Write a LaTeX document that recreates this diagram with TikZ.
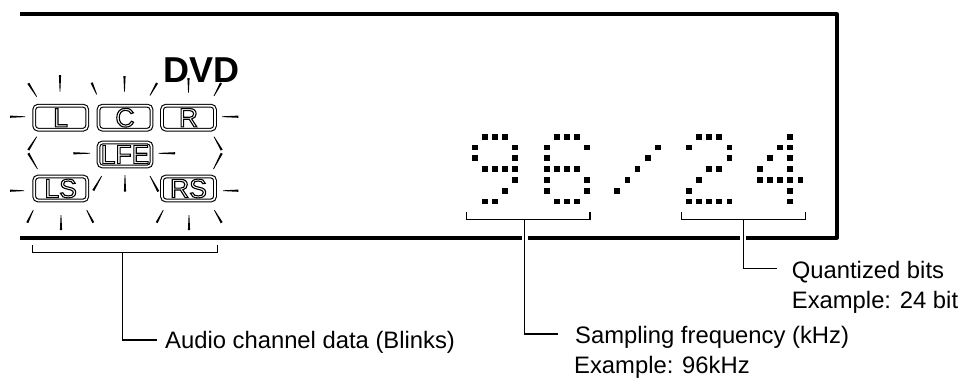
\documentclass[tikz,border=0pt]{standalone}
\usepackage{fontspec}
\setmainfont{Liberation Sans}
\usetikzlibrary{calc}
\newcommand\hollow[1]{\special{pdf:literal 1 Tr 1.1 w}#1\special{pdf:literal 0 Tr}}
\newcommand\blink[2]{%
  \fill ($(#1)!1.1pt!90:(#2)$) -- ($(#1)!1.1pt!-90:(#2)$) -- ($(#2)!0.35pt!90:(#1)$) -- ($(#2)!0.35pt!-90:(#1)$) -- cycle;}
\newcommand\dotdigit[2]{%
  \foreach \c/\r in {#2} \fill ({#1+\c*10.1-2.9},{136.7+\r*10.8-2.9}) rectangle ++(5.8,5.8);}
\begin{document}
\begin{tikzpicture}[x=1pt,y=-1pt,
  frame/.style={line width=3.6pt, line join=round},
  leader/.style={line width=1.2pt},
  chbox/.style={draw=black, double=white, double distance=1.6pt, line width=1.1pt,
    rounded corners=4pt, minimum width=53pt, minimum height=24pt, inner sep=0pt, fill=white,
    font=\fontsize{26.5}{26.5}\selectfont},
  lbl/.style={font=\fontsize{23.8}{30}\selectfont, inner sep=0pt, anchor=base west},
]
\useasboundingbox (0,0) rectangle (958,380);
% display frame
\draw[frame] (20,14) -- (836.7,14) -- (836.7,237.7) -- (20,237.7);
% DVD
\node[font=\fontsize{36}{36}\selectfont\bfseries, inner sep=0pt, anchor=base west] (dvd) at (163,82) {DVD};
% channel boxes
\node[chbox] (L) at (60.7,117.7) {\hollow{L}};
\node[chbox] (C) at (125,117.7) {\hollow{C}};
\node[chbox] (R) at (188.5,117.7) {\hollow{R}};
\node[chbox] (LFE) at (125,154.5) {\hollow{LFE}};
\node[chbox] (LS) at (60.7,188.5) {\hollow{LS}};
\node[chbox] (RS) at (188.5,188.5) {\hollow{RS}};
% blink marks
\blink{28.3,83.3}{36.7,96.7}
\blink{60,75}{60,91.7}
\blink{91.7,82.7}{96.7,94.5}
\blink{124.5,76}{124.5,91.7}
\blink{157,83}{150,95.5}
\blink{188.5,78}{188.5,92.5}
\blink{221,83}{214,96}
\blink{10,116.7}{25,116.7}
\blink{238.3,116.7}{222,116.7}
\blink{28.3,150}{36.7,136.7}
\blink{28.3,153.3}{37.5,169}
\blink{221.7,150}{214,136.7}
\blink{221.7,153.3}{213.5,169}
\blink{73.3,153.3}{90,153.3}
\blink{175,153.3}{158.5,153.3}
\blink{125,191.7}{125,175}
\blink{93.3,190.5}{101.7,176}
\blink{158.3,191.5}{150,176}
\blink{10,190.7}{24,190.7}
\blink{238.3,190.7}{223,190.7}
\blink{27.3,222.7}{33.3,210}
\blink{61,230}{61,215}
\blink{93.3,222.7}{86.7,210}
\blink{156.7,222.7}{163.3,210}
\blink{189,230}{189,215}
\blink{221.7,222.7}{214.3,210}
% dot matrix 96/24
\dotdigit{474.7}{1/0,2/0,3/0,0/1,4/1,0/2,4/2,1/3,2/3,3/3,4/3,4/4,3/5,1/6,2/6}
\dotdigit{546.7}{1/0,2/0,3/0,0/1,4/1,0/2,0/3,1/3,2/3,3/3,0/4,4/4,0/5,4/5,1/6,2/6,3/6}
\dotdigit{617.3}{4/1,3/2,2/3,1/4,0/5}
\dotdigit{689}{1/0,2/0,3/0,0/1,4/1,4/2,2/3,3/3,1/4,0/5,0/6,1/6,2/6,3/6,4/6}
\dotdigit{760}{3/0,2/1,3/1,1/2,3/2,0/3,3/3,0/4,1/4,2/4,3/4,4/4,3/5,3/6}
% gaps in frame where leaders cross
\draw[white, line width=6pt] (524.7,233) -- (524.7,242.5);
\draw[white, line width=6pt] (743.3,233) -- (743.3,242.5);
% brackets and leaders
\coordinate (a1) at (32.3,245);
\coordinate (a2) at (217.3,245);
\coordinate (am) at (122.3,252.7);
\coordinate (ae) at (156.7,340);
\draw[leader] (a1) |- (a2 |- am) -- (a2);
\draw[leader] (am) |- (ae);
\node[lbl] (audio) at (165,348) {Audio channel data (Blinks)};

\coordinate (s1) at (466.7,212);
\coordinate (s2) at (590,212);
\coordinate (sm) at (524.7,219.5);
\coordinate (se) at (558.3,334);
\draw[leader] (s1) |- (s2 |- sm) -- (s2);
\draw[leader] (sm) |- (se);
\node[lbl] (samp) at (575,343.3) {Sampling frequency (kHz)};
\node[lbl] (samp2) at (574,373.3) {Example: 96kHz};

\coordinate (q1) at (681.7,212);
\coordinate (q2) at (805.7,212);
\coordinate (qm) at (743.3,219.5);
\coordinate (qe) at (776.7,268.3);
\draw[leader] (q1) |- (q2 |- qm) -- (q2);
\draw[leader] (qm) |- (qe);
\node[lbl] (quant) at (791.7,278.3) {Quantized bits};
\node[lbl] (quant2) at (791.7,308.3) {Example: 24 bit};
\end{tikzpicture}
\end{document}
